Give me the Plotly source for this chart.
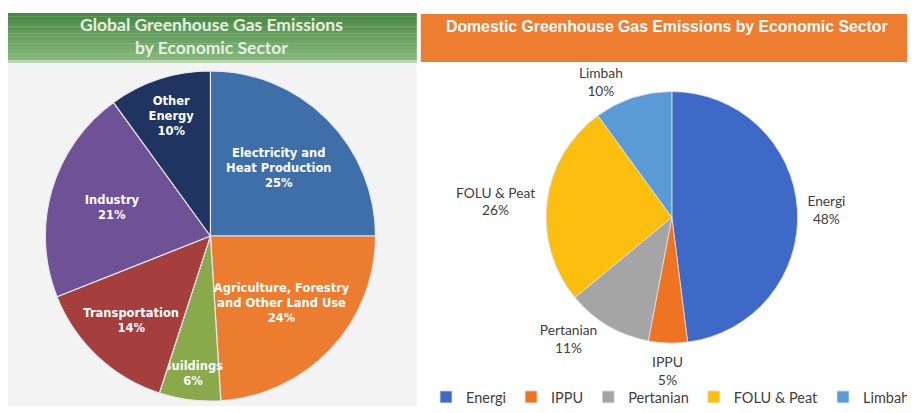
import math
import plotly.graph_objects as go

# ---- data ----
global_sectors = ["Electricity and<br>Heat Production", "Agriculture, Forestry<br>and Other Land Use",
                  "Buildings", "Transportation", "Industry", "Other<br>Energy"]
global_values = [25, 24, 6, 14, 21, 10]
global_colors = ["#3f6fa9", "#ec7c30", "#89a94b", "#a53f3d", "#6f5196", "#1f3461"]

domestic_sectors = ["Energi", "IPPU", "Pertanian", "FOLU & Peat", "Limbah"]
domestic_values = [48, 5, 11, 26, 10]
domestic_colors = ["#3e69c6", "#ee7424", "#a5a5a5", "#fcbf10", "#5b9bd5"]

OFF = 8  # page body margin
W, H = 915 - OFF, 413 - OFF

def px_x(x):
    return (x - OFF) / W

def px_y(y):
    return 1 - (y - OFF) / H

fig = go.Figure()

# Left pie (global)
lcx, lcy, lr = 212, 240, 168
fig.add_trace(go.Pie(
    labels=global_sectors, values=global_values, sort=False, direction="clockwise", rotation=0,
    marker=dict(colors=global_colors, line=dict(color="#e8e8f0", width=1.2)),
    texttemplate="%{label}<br>%{percent:.0%}", textposition="inside", insidetextorientation="horizontal",
    textfont=dict(family="DejaVu Sans", size=11.5, color="#ffffff", weight="bold"),
    domain=dict(x=[px_x(lcx - lr), px_x(lcx + lr)], y=[px_y(lcy + lr), px_y(lcy - lr)]),
    showlegend=False, hoverinfo="label+percent",
))

# Right pie (domestic); the small bottom slice gets its label placed directly below it
rcx, rcy, rr = 677, 221, 128
total = sum(domestic_values)
small_idx = domestic_values.index(min(domestic_values))
positions = ["none" if i == small_idx else "outside" for i in range(len(domestic_values))]
fig.add_trace(go.Pie(
    labels=domestic_sectors, values=domestic_values, sort=False, direction="clockwise", rotation=0,
    marker=dict(colors=domestic_colors, line=dict(color="#dfe3ea", width=0.8)),
    texttemplate="%{label}<br>%{percent:.0%}", textposition=positions,
    textfont=dict(family="Lato", size=14.5, color="#404040"),
    outsidetextfont=dict(family="Lato", size=14.5, color="#404040"),
    domain=dict(x=[px_x(rcx - rr), px_x(rcx + rr)], y=[px_y(rcy + rr), px_y(rcy - rr)]),
    showlegend=True, hoverinfo="label+percent",
))

# position of the small slice's label, from its mid-angle
cum = sum(domestic_values[:small_idx]) + domestic_values[small_idx] / 2
ang = 2 * math.pi * cum / total
lab_r = rr + 8
lab_x = rcx + lab_r * math.sin(ang)
lab_y = rcy - lab_r * math.cos(ang)

shapes = []
shapes.append(dict(type="rect", xref="paper", yref="paper", x0=px_x(7), x1=px_x(420), y0=0, y1=px_y(63),
                   fillcolor="#f3f3f3", line=dict(width=0), layer="below"))
top = (0x4a, 0x88, 0x44)
bot = (0x86, 0xb7, 0x7c)
n = 14
y0h, y1h = 13, 61
for i in range(n):
    t = i / (n - 1)
    c = tuple(int(top[k] + (bot[k] - top[k]) * t) for k in range(3))
    ya = y0h + (y1h - y0h) * i / n
    yb = y0h + (y1h - y0h) * (i + 1) / n
    shapes.append(dict(type="rect", xref="paper", yref="paper", x0=px_x(7), x1=px_x(420),
                       y0=px_y(yb + 0.3), y1=px_y(ya), fillcolor="rgb(%d,%d,%d)" % c,
                       line=dict(width=0), layer="below"))
shapes.append(dict(type="rect", xref="paper", yref="paper", x0=px_x(7), x1=px_x(420), y0=px_y(64), y1=px_y(61),
                   fillcolor="#b9d6b2", line=dict(width=0), layer="below"))
shapes.append(dict(type="rect", xref="paper", yref="paper", x0=px_x(424), x1=1, y0=px_y(63), y1=px_y(14),
                   fillcolor="#ed7d31", line=dict(width=0), layer="below"))

annotations = [
    dict(text="<b>Global Greenhouse Gas Emissions<br>by Economic Sector</b>", x=px_x(213), y=px_y(36),
         xref="paper", yref="paper", showarrow=False, xanchor="center", yanchor="middle",
         font=dict(family="Lato", size=17.5, color="#e6efe3")),
    dict(text="<b>Domestic Greenhouse Gas Emissions by Economic Sector</b>", x=px_x(672), y=px_y(27),
         xref="paper", yref="paper", showarrow=False, xanchor="center", yanchor="middle",
         font=dict(family="Liberation Sans", size=15.8, color="#ffffff")),
    dict(text="%s<br>%d%%" % (domestic_sectors[small_idx], round(100 * domestic_values[small_idx] / total)),
         x=px_x(lab_x), y=px_y(lab_y), xref="paper", yref="paper", showarrow=False,
         xanchor="center", yanchor="top", font=dict(family="Lato", size=14, color="#404040")),
]

fig.update_layout(
    width=W, height=H, margin=dict(l=0, r=0, t=0, b=0),
    paper_bgcolor="#ffffff", plot_bgcolor="#ffffff",
    shapes=shapes, annotations=annotations,
    uniformtext=dict(minsize=11.5, mode="show"),
    legend=dict(orientation="h", x=px_x(676), xanchor="center", y=px_y(404), yanchor="middle",
                font=dict(family="Lato", size=14.5, color="#404040"), bgcolor="rgba(0,0,0,0)",
                itemwidth=30, tracegroupgap=0),
)

fig.write_html("out.html")
